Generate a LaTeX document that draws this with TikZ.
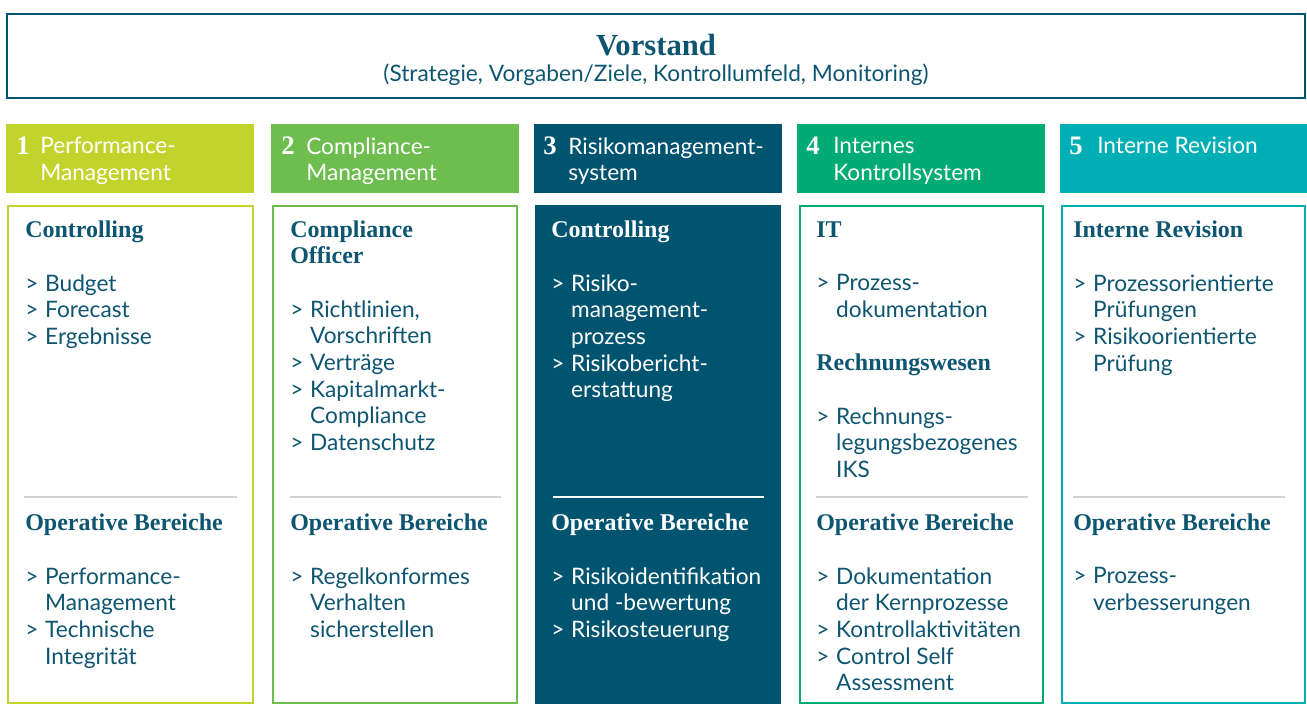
\documentclass[tikz,border=0pt]{standalone}
\usepackage{fontspec}
\setmainfont{Liberation Serif}
\setsansfont{Lato}

\definecolor{limone}{HTML}{C2D42C}
\definecolor{gruen}{HTML}{6EBE4F}
\definecolor{petrol}{HTML}{00546F}
\definecolor{smaragd}{HTML}{00AC74}
\definecolor{tuerkis}{HTML}{00AFB5}
\definecolor{textblau}{HTML}{0E5571}
\definecolor{linie}{HTML}{D2D2D2}

\newcommand{\pfeil}{\makebox[0.88em][l]{>}}
\newcommand{\einr}{\hspace*{0.88em}}

\tikzset{
  zeilen/.style={anchor=north west, inner sep=0pt, align=left, execute at begin node={\strut}},
  titel/.style={zeilen, yshift=14pt, font=\bfseries\fontsize{18}{20}\selectfont, text=textblau},
  punkte/.style={zeilen, yshift=11.8pt, font=\sffamily\fontsize{17}{20}\selectfont, text=textblau},
  kopf/.style={zeilen, yshift=11.2pt, font=\sffamily\fontsize{17}{20}\selectfont, text=white},
  nummer/.style={font=\bfseries\fontsize{20}{20}\selectfont, text=white, anchor=base west, inner sep=0pt}
}

\begin{document}
\begin{tikzpicture}[x=0.75pt, y=-0.75pt]
    \useasboundingbox (0,0) rectangle (1307,711);

    % Vorstand
    \draw[petrol, line width=1.5pt] (7,14) rectangle (1305,98);
    \node[font=\bfseries\fontsize{23}{26}\selectfont, text=textblau, anchor=base, inner sep=0pt] (vorstand) at (656,55) {Vorstand};
    \node[font=\sffamily\fontsize{17}{20}\selectfont, text=textblau, anchor=base, inner sep=0pt] (aufgaben) at (656,81) {(Strategie, Vorgaben/Ziele, Kontrollumfeld, Monitoring)};

    % Kopfzeilen und Spalten
    \foreach \li/\re/\fa in {6/254/limone, 271/519/gruen, 534/782/petrol, 797/1045/smaragd, 1060/1307/tuerkis}
        \fill[\fa] (\li,124) rectangle (\re,193);
    \foreach \li/\re/\fa in {8/253/limone, 273/517/gruen, 800/1043/smaragd, 1062/1305/tuerkis}
        \draw[\fa, line width=1.5pt] (\li,206) rectangle (\re,703);
    \fill[petrol] (535,205) rectangle (781,704);

    % Trennlinien
    \foreach \li/\re in {24/237, 290/501, 816/1028, 1073/1285}
        \draw[linie, line width=1pt] (\li,497) -- (\re,497);
    \draw[white, line width=1pt] (553,497) -- (764,497);

    % 1 Performance-Management
    \node[nummer] (n1) at (16,154) {1};
    \node[kopf] (k1) at (40,152) {Performance-\\Management};
    \node[titel] (t1a) at (25,237) {Controlling};
    \node[punkte] (p1a) at (25,290) {\pfeil Budget\\\pfeil Forecast\\\pfeil Ergebnisse};
    \node[titel] (t1b) at (25,530) {Operative Bereiche};
    \node[punkte] (p1b) at (25,583) {\pfeil Performance-\\\einr Management\\\pfeil Technische\\\einr Integrität};

    % 2 Compliance-Management
    \node[nummer] (n2) at (281,154) {2};
    \node[kopf] (k2) at (306,152) {Compliance-\\Management};
    \node[titel] (t2a) at (290,239) {Compliance\\Officer};
    \node[punkte] (p2a) at (290,316) {\pfeil Richtlinien,\\\einr Vorschriften\\\pfeil Verträge\\\pfeil Kapitalmarkt-\\\einr Compliance\\\pfeil Datenschutz};
    \node[titel] (t2b) at (290,530) {Operative Bereiche};
    \node[punkte] (p2b) at (290,583) {\pfeil Regelkonformes\\\einr Verhalten\\\einr sicherstellen};

    % 3 Risikomanagementsystem
    \node[nummer] (n3) at (543,154) {3};
    \node[kopf] (k3) at (568,152) {Risikomanagement-\\system};
    \node[titel, text=white] (t3a) at (551,237) {Controlling};
    \node[punkte, text=white] (p3a) at (551,290) {\pfeil Risiko-\\\einr management-\\\einr prozess\\\pfeil Risikobericht-\\\einr erstattung};
    \node[titel, text=white] (t3b) at (551,530) {Operative Bereiche};
    \node[punkte, text=white] (p3b) at (551,583) {\pfeil Risikoidentifikation\\\einr und -bewertung\\\pfeil Risikosteuerung};

    % 4 Internes Kontrollsystem
    \node[nummer] (n4) at (806,154) {4};
    \node[kopf] (k4) at (833,152) {Internes\\Kontrollsystem};
    \node[titel] (t4a) at (816,237) {IT};
    \node[punkte] (p4a) at (816,290) {\pfeil Prozess-\\\einr dokumentation};
    \node[titel] (t4b) at (816,370) {Rechnungswesen};
    \node[punkte] (p4b) at (816,423) {\pfeil Rechnungs-\\\einr legungsbezogenes\\\einr IKS};
    \node[titel] (t4c) at (816,530) {Operative Bereiche};
    \node[punkte] (p4c) at (816,583) {\pfeil Dokumentation\\\einr der Kernprozesse\\\pfeil Kontrollaktivitäten\\\pfeil Control Self\\\einr Assessment};

    % 5 Interne Revision
    \node[nummer] (n5) at (1069,154) {5};
    \node[kopf] (k5) at (1097,149) {Interne Revision};
    \node[titel] (t5a) at (1073,237) {Interne Revision};
    \node[punkte] (p5a) at (1073,290) {\pfeil Prozessorientierte\\\einr Prüfungen\\\pfeil Risikoorientierte\\\einr Prüfung};
    \node[titel] (t5b) at (1073,530) {Operative Bereiche};
    \node[punkte] (p5b) at (1073,583) {\pfeil Prozess-\\\einr verbesserungen};
\end{tikzpicture}
\end{document}
